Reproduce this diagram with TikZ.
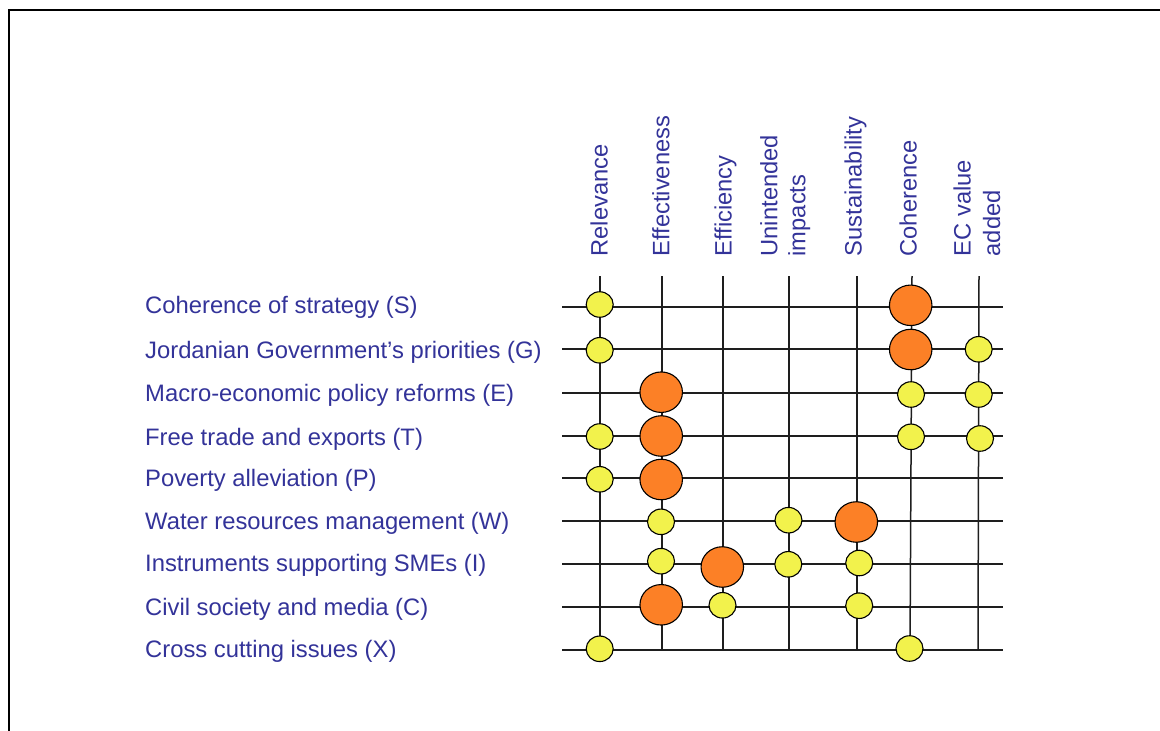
\documentclass[tikz,border=0pt]{standalone}
\usepackage{fontspec}
\setmainfont{Liberation Sans}
\usetikzlibrary{shapes.geometric}
\definecolor{txtblue}{RGB}{51,51,153}
\definecolor{dotyellow}{RGB}{242,242,76}
\definecolor{dotorange}{RGB}{252,128,38}
\definecolor{gridc}{RGB}{30,30,30}
\tikzset{
  rowlabel/.style={anchor=base west, inner sep=0pt, text=txtblue, font=\fontsize{23.8}{28}\selectfont},
  collabel/.style={rotate=90, anchor=base west, inner sep=0pt, text=txtblue, font=\fontsize{23.7}{28}\selectfont},
  gridline/.style={draw=gridc, line width=1.5pt},
  smalldot/.style={ellipse, draw=black, line width=1.1pt, fill=dotyellow, inner sep=0pt, minimum width=27pt, minimum height=25.5pt},
  bigdot/.style={ellipse, draw=black, line width=1.1pt, fill=dotorange, inner sep=0pt, minimum width=42.5pt, minimum height=40.5pt},
  frameline/.style={draw=black, line width=2pt}
}
\begin{document}
\begin{tikzpicture}[x=1pt,y=-1pt]
\useasboundingbox (0,0) rectangle (1160,731);
% frame
\coordinate (fTL) at (9,10);
\coordinate (fTR) at (1162,10);
\coordinate (fBL) at (9,733);
\draw[frameline] (fTR) -- (fTL) -- (fBL);

% row lines
\foreach \n/\y in {S/307,G/349,E/393,T/436,P/478,W/521,I/564,C/607,X/650}{
  \coordinate (rl\n) at (562,\y);
  \coordinate (rr\n) at (1003,\y);
  \draw[gridline] (rl\n) -- (rr\n);
}
% column lines
\foreach \n/\xt/\xb in {rel/600/600,eff/662/662,effic/723/723,unint/789/789,sust/857/857,coh/912/910,ec/979/978}{
  \coordinate (ct\n) at (\xt,276);
  \coordinate (cb\n) at (\xb,650);
  \draw[gridline] (ct\n) -- (cb\n);
}

% column headers
\node[collabel] (hrel) at (607.7,256.5) {Relevance};
\node[collabel] (heff) at (669.3,256.5) {Effectiveness};
\node[collabel] (heffic) at (731.7,256.5) {Efficiency};
\node[collabel] (hunint1) at (777.3,256.5) {Unintended};
\node[collabel] (hunint2) at (805.3,256.5) {impacts};
\node[collabel] (hsust) at (861.7,256.5) {Sustainability};
\node[collabel] (hcoh) at (916.7,256.5) {Coherence};
\node[collabel] (hec1) at (970.7,256.5) {EC value};
\node[collabel] (hec2) at (1000,256.5) {added};

% row labels
\node[rowlabel] (lS) at (145,313.5) {Coherence of strategy (S)};
\node[rowlabel] (lG) at (145,358.3) {Jordanian Government’s priorities (G)};
\node[rowlabel] (lE) at (145,401) {Macro-economic policy reforms (E)};
\node[rowlabel] (lT) at (145,445) {Free trade and exports (T)};
\node[rowlabel] (lP) at (145,486.7) {Poverty alleviation (P)};
\node[rowlabel] (lW) at (145,529.3) {Water resources management (W)};
\node[rowlabel] (lI) at (145,571.7) {Instruments supporting SMEs (I)};
\node[rowlabel] (lC) at (145,615) {Civil society and media (C)};
\node[rowlabel] (lX) at (145,657.3) {Cross cutting issues (X)};

% dots
\node[smalldot] (dSrel) at (599.7,304.5) {};
\node[bigdot]   (dScoh) at (910.7,305.3) {};
\node[smalldot] (dGrel) at (599.7,350.3) {};
\node[bigdot]   (dGcoh) at (910.7,349.5) {};
\node[smalldot] (dGec) at (978.7,349.3) {};
\node[bigdot]   (dEeff) at (661.2,392.2) {};
\node[smalldot] (dEcoh) at (911,394.5) {};
\node[smalldot] (dEec) at (978.7,394.5) {};
\node[smalldot] (dTrel) at (599.7,436.5) {};
\node[bigdot]   (dTeff) at (661.2,436) {};
\node[smalldot] (dTcoh) at (911,436.8) {};
\node[smalldot] (dTec) at (980,438.5) {};
\node[smalldot] (dPrel) at (599.7,479.3) {};
\node[bigdot]   (dPeff) at (661.2,479.5) {};
\node[smalldot] (dWeff) at (661,521.8) {};
\node[smalldot] (dWunint) at (788.5,520.2) {};
\node[bigdot]   (dWsust) at (856.3,522) {};
\node[smalldot] (dIeff) at (661,561.2) {};
\node[bigdot]   (dIeffic) at (722.3,567) {};
\node[smalldot] (dIunint) at (788.3,564.3) {};
\node[smalldot] (dIsust) at (859.2,563) {};
\node[bigdot]   (dCeff) at (661.2,604.8) {};
\node[smalldot] (dCeffic) at (722.5,605.3) {};
\node[smalldot] (dCsust) at (859.2,605.7) {};
\node[smalldot] (dXrel) at (599.7,648.8) {};
\node[smalldot] (dXcoh) at (909.5,648.5) {};
\end{tikzpicture}
\end{document}
